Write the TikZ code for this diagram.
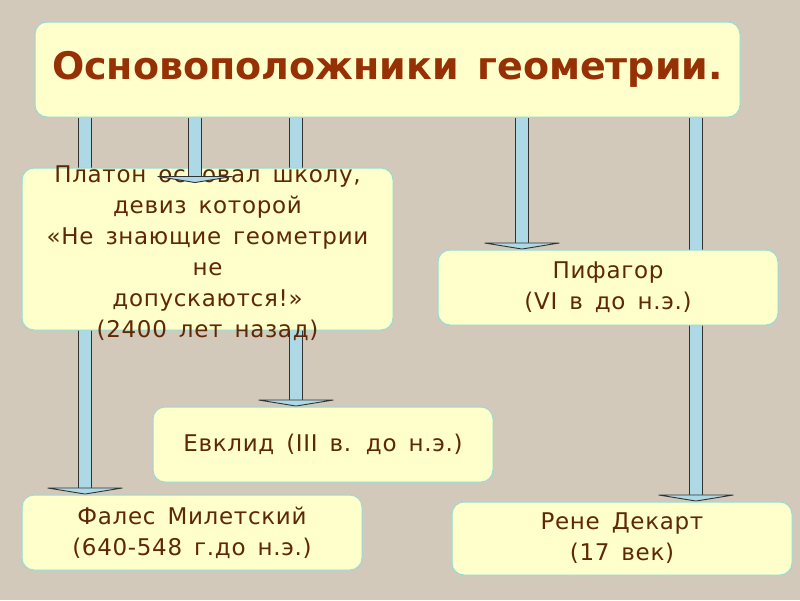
\documentclass[tikz,border=0pt]{standalone}
\usepackage{fontspec}
\setmainfont{DejaVu Sans}
\newfontfamily\boxfont[LetterSpace=3, WordSpace=1.5]{DejaVu Sans}
\newfontfamily\titlefont[WordSpace=1.4]{DejaVu Sans}
\usepackage{tikz}
\usetikzlibrary{arrows.meta}

\definecolor{canvas}{RGB}{210,201,186}
\definecolor{boxfill}{RGB}{255,255,204}
\definecolor{boxline}{RGB}{150,220,210}
\definecolor{txtbrown}{RGB}{95,40,5}
\definecolor{titlered}{RGB}{150,48,5}
\definecolor{barblue}{RGB}{173,216,230}
\definecolor{barline}{RGB}{50,50,50}

\pgfdeclarelayer{bg}
\pgfdeclarelayer{bars}
\pgfsetlayers{bg,bars,main}

\begin{document}
\begin{tikzpicture}[x=1pt, y=-1pt,
    box/.style = {draw=boxline, fill=boxfill, rounded corners=12pt, line width=1pt,
        minimum width=340pt, minimum height=75pt, align=center, text=txtbrown,
        font=\boxfont\fontsize{23}{31}\selectfont},
    bar/.style = {line width=12pt, draw=barblue,
        -{Triangle[width=86pt, length=7pt, fill=barblue, color=barline, line width=0.9pt]},
        preaction={draw=barline, line width=14pt, -, shorten >=7pt}}]
    \begin{pgfonlayer}{bg}
        \fill[canvas] (0,0) rectangle (800,600);
    \end{pgfonlayer}

    \node[box, minimum width=705pt, minimum height=95pt, text=titlered,
        font=\titlefont\fontsize{38}{42}\selectfont\bfseries] (title) at (387.5,69.5) {Основоположники геометрии.};
    \node[box, minimum width=371pt, minimum height=162pt,
        label={[align=center, text=txtbrown, font=\boxfont\fontsize{23}{31}\selectfont, yshift=-4pt]center:{Платон основал школу,\\девиз которой\\«Не знающие геометрии\\не\\допускаются!»\\(2400 лет назад)}}]
        (plato) at (207.5,249) {};
    \node[box] (pifagor) at (608,287.5) {Пифагор\\(VI в до н.э.)};
    \node[box] (evklid) at (323,444.5) {Евклид (III в. до н.э.)};
    \node[box] (fales) at (192,532.5) {Фалес Милетский\\(640-548 г.до н.э.)};
    \node[box, minimum height=73pt] (dekart) at (622,538.5) {Рене Декарт\\(17 век)};

    % columns of the bars
    \coordinate (c1) at (85,0);
    \coordinate (c2) at (195,183);
    \coordinate (c3) at (296,0);
    \coordinate (c4) at (522,0);
    \coordinate (c5) at (696,0);

    \begin{pgfonlayer}{bars}
        \draw[bar] (title.south -| c1) -- (fales.north -| c1);
        \draw[bar] (title.south -| c3) -- (evklid.north -| c3);
        \draw[bar] (title.south -| c4) -- (pifagor.north -| c4);
        \draw[bar] (title.south -| c5) -- (dekart.north -| c5);
    \end{pgfonlayer}
    \draw[bar] (title.south -| c2) -- (c2);
\end{tikzpicture}
\end{document}
